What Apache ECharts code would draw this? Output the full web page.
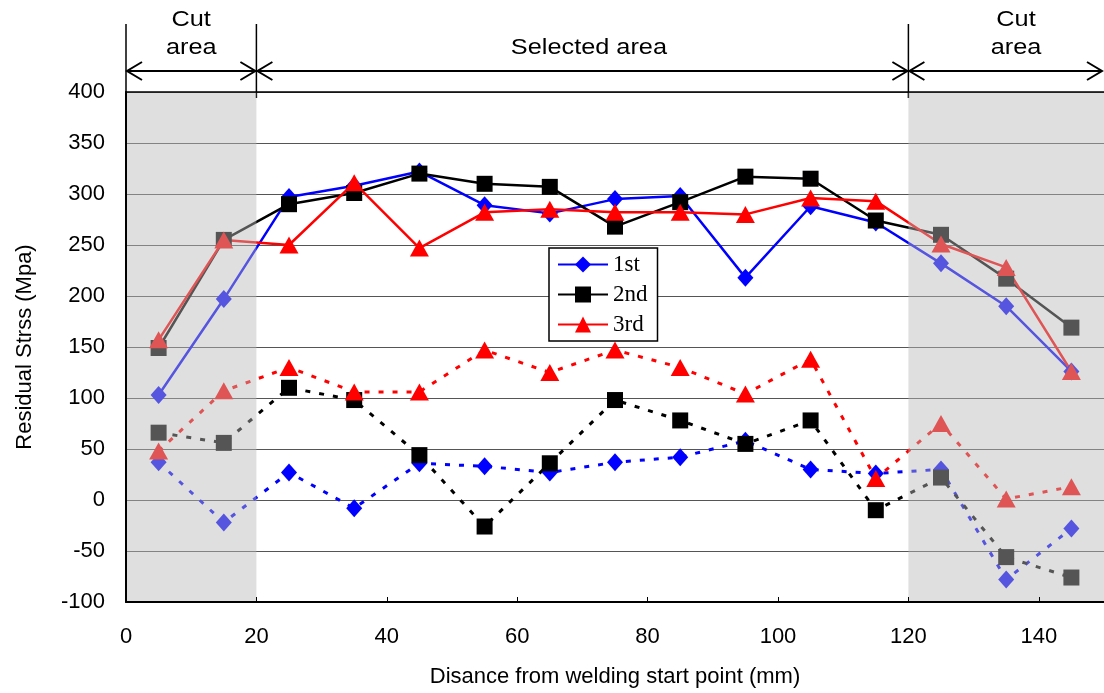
<!DOCTYPE html>
<html><head><meta charset="utf-8">
<script src="https://cdn.jsdelivr.net/npm/echarts@6/dist/echarts.min.js"></script>
<style>html,body{margin:0;padding:0;background:#fff}#c{width:1104px;height:693px}</style>
</head><body><div id="c"></div>
<script>
var xs = [5,15,25,35,45,55,65,75,85,95,105,115,125,135,145];
var s1 = [103,197,297,308,322,289,281,295,298,218,288,272,232,190,126];
var s2 = [149,255,290,301,320,310,307,268,292,317,315,274,260,217,169];
var s3 = [157,255,250,311,247,282,285,282,282,280,296,293,251,228,126];
var d1 = [37,-22,27,-8,36,33,27,37,42,58,30,26,30,-78,-28];
var d2 = [66,56,110,98,44,-26,36,98,78,55,78,-10,22,-56,-76];
var d3 = [48,107,130,106,106,147,125,147,130,104,138,21,75,1,13];
var names = ['1st','2nd','3rd'];
var cutLeft = [0,20], cutRight = [120,150];

function pairs(v){ return xs.map(function(x,i){ return [x, v[i]]; }); }
var F = 'Liberation Sans, Arial, sans-serif';
var colors = ['#0000ff','#000000','#ff0000'];
var symbols = ['diamond','rect','triangle'];
var sizes = [[16,18],[16,16],[19,17]];

var series = [];
[s1,s2,s3].forEach(function(v,i){
  series.push({name:names[i], type:'line', data:pairs(v), z:2,
    symbol:symbols[i], symbolSize:sizes[i], showAllSymbol:true,
    lineStyle:{color:colors[i], width:2.5}, itemStyle:{color:colors[i]}});
});
[d1,d2,d3].forEach(function(v,i){
  series.push({name:names[i]+' (b)', type:'line', data:pairs(v), z:2,
    symbol:symbols[i], symbolSize:sizes[i],
    lineStyle:{color:colors[i], width:3, type:[5,9]}, itemStyle:{color:colors[i]}});
});
series.push({name:'shade', type:'line', data:[], z:5, silent:true,
  markArea:{silent:true, z:5, itemStyle:{color:'rgba(185,185,185,0.46)'},
    data:[[{xAxis:cutLeft[0]},{xAxis:cutLeft[1]}],[{xAxis:cutRight[0]},{xAxis:cutRight[1]}]]}});

var chart = echarts.init(document.getElementById('c'));
chart.setOption({
  animation:false,
  backgroundColor:'#fff',
  grid:{left:126, right:0, top:92, bottom:91},
  legend:{data:names, orient:'vertical', left:549, top:248, padding:[5,10,5,8], itemGap:7,
    itemWidth:50, itemHeight:20, backgroundColor:'#fff', borderColor:'#000', borderWidth:1.5,
    textStyle:{fontFamily:'Liberation Serif, serif', fontSize:23, color:'#000'}},
  xAxis:[{type:'value', min:0, max:150, interval:20, z:10,
    axisLine:{onZero:false, lineStyle:{color:'#000', width:2}},
    axisTick:{inside:true, length:5, lineStyle:{color:'#000'}},
    axisLabel:{showMaxLabel:false, fontFamily:F, fontSize:22, color:'#000', margin:24},
    splitLine:{show:false},
    name:'Disance from welding start point (mm)', nameLocation:'middle', nameGap:64,
    nameTextStyle:{fontFamily:F, fontSize:22, color:'#000'}},
    {type:'value', position:'top', min:0, max:150, z:10,
    axisLine:{show:true, onZero:false, lineStyle:{color:'#000', width:1.5}}, axisTick:{show:false},
    axisLabel:{show:false}, splitLine:{show:false}}],
  yAxis:[{type:'value', min:-100, max:400, interval:50,
    axisLine:{show:false}, axisTick:{show:false},
    axisLabel:{fontFamily:F, fontSize:22, color:'#000', margin:21},
    splitLine:{lineStyle:{color:'#555', width:1}},
    name:'Residual Strss (Mpa)', nameLocation:'middle', nameGap:90,
    nameTextStyle:{fontFamily:F, fontSize:22, color:'#000'}},
    {type:'value', min:-100, max:400, position:'left', z:10,
    axisLine:{show:true, onZero:false, lineStyle:{color:'#000', width:2}}, axisTick:{show:false},
    axisLabel:{show:false}, splitLine:{show:false}}],
  series:series
});

function px(x){ return chart.convertToPixel({xAxisIndex:0}, x); }
var ay = 71, top0 = 24, bot0 = 98, ah = 15, aw = 9;
var g = [];
[0,20,120].forEach(function(v){
  var p = px(v);
  g.push({type:'line', shape:{x1:p, y1:top0, x2:p, y2:bot0}, style:{stroke:'#000', lineWidth:1.5}});
});
function arrow(a,b){
  var x1 = px(a)+1, x2 = Math.min(px(b)-1, 1102);
  g.push({type:'line', shape:{x1:x1, y1:ay, x2:x2, y2:ay}, style:{stroke:'#000', lineWidth:2}});
  g.push({type:'polyline', shape:{points:[[x1+ah,ay-aw],[x1,ay],[x1+ah,ay+aw]]}, style:{stroke:'#000', lineWidth:2, fill:null}});
  g.push({type:'polyline', shape:{points:[[x2-ah,ay-aw],[x2,ay],[x2-ah,ay+aw]]}, style:{stroke:'#000', lineWidth:2, fill:null}});
}
arrow(0,20); arrow(20,120); arrow(120,150);
function txt(s, x, y){
  g.push({type:'text', x:x, y:y, scaleX:1.15, style:{text:s, fill:'#000', font:'22px ' + F, textAlign:'center', textVerticalAlign:'middle'}});
}
txt('Cut', px(10), 20); txt('area', px(10), 48);
txt('Selected area', px(71), 48);
txt('Cut', px(136.5), 20); txt('area', px(136.5), 48);
chart.setOption({graphic:g});
</script></body></html>
